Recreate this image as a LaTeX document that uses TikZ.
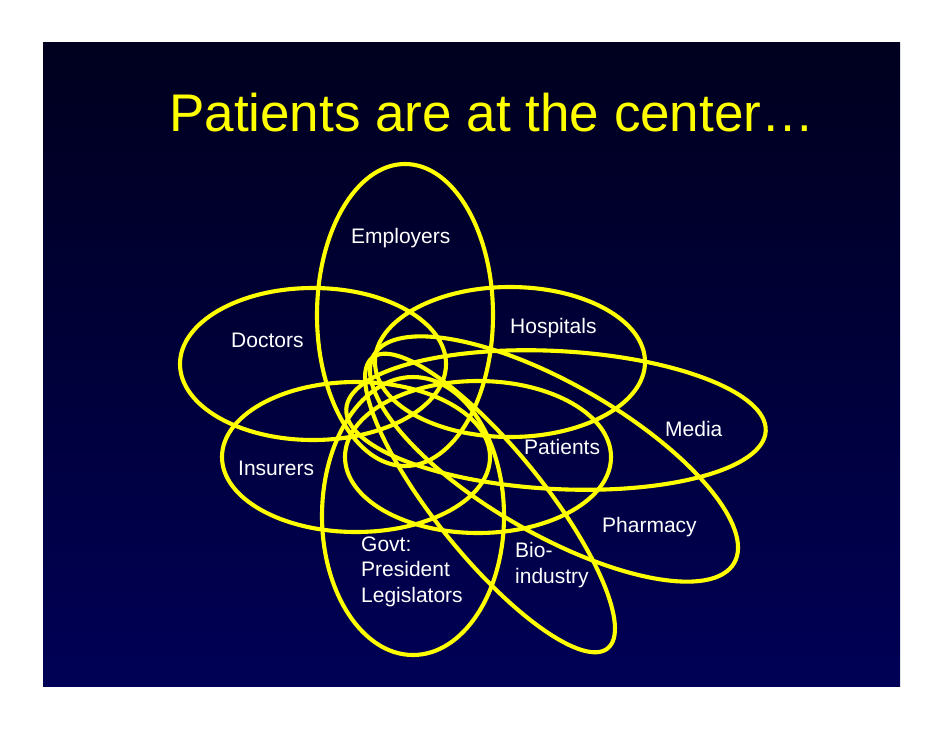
\documentclass[tikz,border=0pt]{standalone}
\usepackage{fontspec}
\setmainfont{Liberation Sans}
\definecolor{slidetop}{RGB}{0,0,30}
\definecolor{slidebottom}{RGB}{0,0,86}
\definecolor{ringyellow}{RGB}{255,255,0}

\begin{document}
\begin{tikzpicture}[x=1pt, y=-1pt,
    ring/.style={draw=ringyellow, line width=4.1pt},
    lbl/.style={text=white, font=\fontsize{21}{25.5}\selectfont, anchor=base west, inner sep=0pt, align=left}]
    \useasboundingbox (0,0) rectangle (942,728);
    \shade[top color=slidetop, bottom color=slidebottom] (43,42) rectangle (900,686);
    \node[text=ringyellow, font=\fontsize{53}{60}\selectfont, anchor=base west, inner sep=0pt] (title) at (169,131) {Patients are at the center…};
    % the rings
    \draw[ring] (405,315) ellipse (88 and 151);
    \draw[ring] (313,364) ellipse (133 and 76);
    \draw[ring] (510,362) ellipse (135 and 75);
    \draw[ring] (356,457) ellipse (134 and 75);
    \draw[ring] (413,516) ellipse (91 and 139);
    \draw[ring] (478,457) ellipse (133 and 76);
    \draw[ring, rotate around={-3:(556,420)}] (556,420) ellipse (210 and 69);
    \draw[ring, rotate around={-30:(554,459)}] (554,459) ellipse (208 and 75);
    \draw[ring, rotate around={-51:(490,503)}] (490,503) ellipse (187 and 54);
    % labels
    \node[lbl] (employers) at (351,243) {Employers};
    \node[lbl] (doctors) at (231,347) {Doctors};
    \node[lbl] (hospitals) at (510,333) {Hospitals};
    \node[lbl] (media) at (665,436) {Media};
    \node[lbl] (patients) at (524,454) {Patients};
    \node[lbl] (insurers) at (238,475) {Insurers};
    \node[lbl] (pharmacy) at (602,532) {Pharmacy};
    \node[lbl] (govt) at (361,602) {Govt:\\President\\Legislators};
    \node[lbl] (bio) at (515,583) {Bio-\\industry};
\end{tikzpicture}
\end{document}
